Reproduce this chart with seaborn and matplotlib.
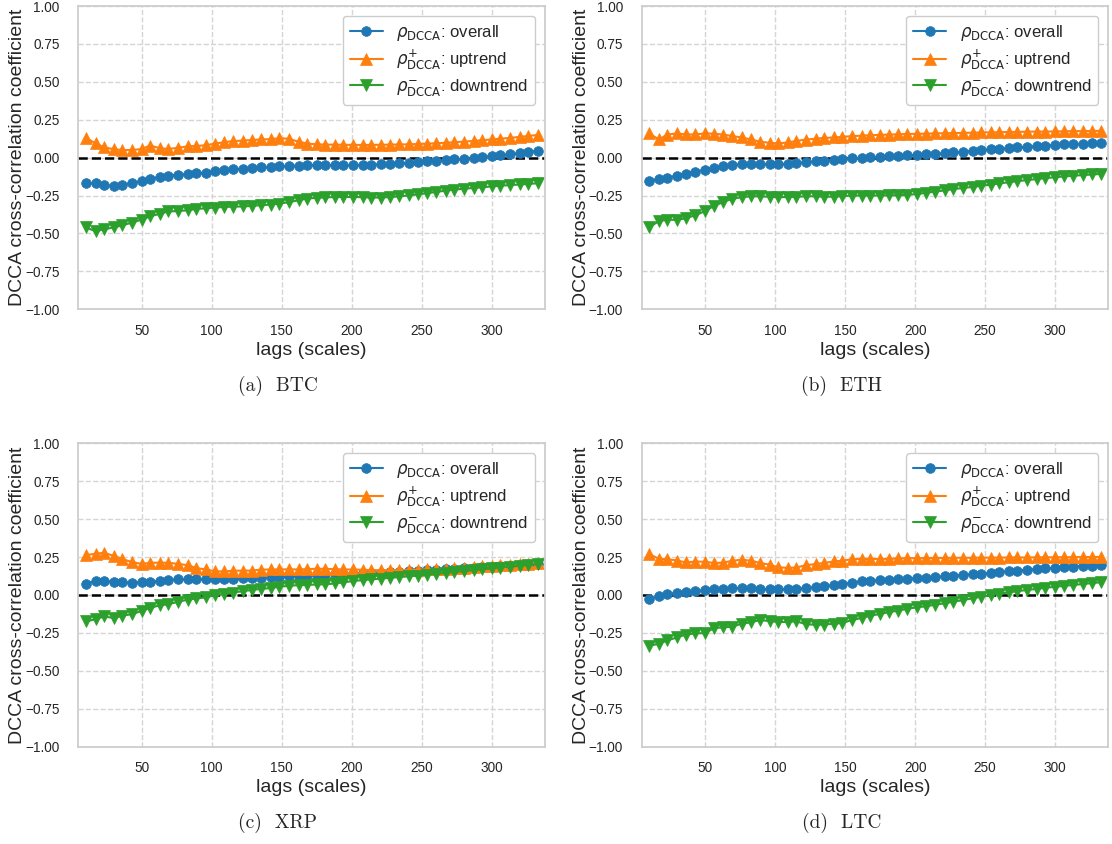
import numpy as np
import pandas as pd
import matplotlib
matplotlib.use('Agg')
import matplotlib.pyplot as plt
from matplotlib.ticker import MultipleLocator, FuncFormatter
import seaborn as sns

# lags (scales) used for every coin
lags = [10, 17, 23, 30, 36, 43, 50, 56, 63, 69, 76, 83, 89, 96, 102, 109, 115,
        122, 129, 135, 142, 148, 155, 162, 168, 175, 181, 188, 194, 201, 208,
        214, 221, 227, 234, 241, 247, 254, 260, 267, 273, 280, 287, 293, 300,
        306, 313, 320, 326, 333]

coins = ['BTC', 'ETH', 'XRP', 'LTC']
captions = ['(a)  BTC', '(b)  ETH', '(c)  XRP', '(d)  LTC']

# BTC
btc_overall = [-0.165, -0.17, -0.183, -0.186, -0.18, -0.168, -0.155, -0.14, -0.128, -0.118,
               -0.112, -0.108, -0.103, -0.098, -0.09, -0.082, -0.077, -0.072, -0.068, -0.064,
               -0.06, -0.056, -0.054, -0.052, -0.051, -0.05, -0.05, -0.05, -0.05, -0.05,
               -0.049, -0.047, -0.045, -0.042, -0.038, -0.034, -0.03, -0.025, -0.02, -0.016,
               -0.012, -0.007, -0.002, 0.004, 0.01, 0.016, 0.022, 0.03, 0.038, 0.045]
btc_up = [0.13, 0.095, 0.068, 0.056, 0.05, 0.05, 0.057, 0.08, 0.062, 0.057,
          0.065, 0.075, 0.077, 0.082, 0.092, 0.102, 0.108, 0.113, 0.116, 0.12,
          0.122, 0.128, 0.125, 0.105, 0.093, 0.088, 0.086, 0.086, 0.085, 0.084,
          0.084, 0.084, 0.085, 0.086, 0.087, 0.088, 0.09, 0.092, 0.095, 0.098,
          0.102, 0.106, 0.11, 0.115, 0.12, 0.125, 0.13, 0.137, 0.143, 0.15]
btc_down = [-0.46, -0.485, -0.473, -0.46, -0.447, -0.428, -0.408, -0.387, -0.37, -0.355,
            -0.352, -0.347, -0.338, -0.334, -0.329, -0.325, -0.323, -0.322, -0.318, -0.313,
            -0.31, -0.303, -0.294, -0.281, -0.27, -0.265, -0.262, -0.26, -0.259, -0.259,
            -0.261, -0.263, -0.263, -0.26, -0.255, -0.249, -0.242, -0.234, -0.226, -0.218,
            -0.211, -0.205, -0.2, -0.195, -0.19, -0.185, -0.181, -0.177, -0.173, -0.169]

# ETH
eth_overall = [-0.152, -0.142, -0.131, -0.12, -0.107, -0.094, -0.08, -0.066, -0.058, -0.049,
               -0.044, -0.043, -0.043, -0.043, -0.043, -0.041, -0.037, -0.031, -0.025, -0.02,
               -0.015, -0.011, -0.005, -0.001, 0.003, 0.006, 0.009, 0.012, 0.015, 0.018,
               0.021, 0.025, 0.029, 0.034, 0.039, 0.044, 0.049, 0.054, 0.058, 0.063,
               0.067, 0.071, 0.075, 0.079, 0.083, 0.087, 0.09, 0.093, 0.095, 0.097]
eth_up = [0.16, 0.12, 0.152, 0.16, 0.153, 0.153, 0.16, 0.158, 0.152, 0.143,
          0.133, 0.12, 0.105, 0.098, 0.094, 0.1, 0.11, 0.119, 0.125, 0.13,
          0.133, 0.137, 0.142, 0.145, 0.148, 0.15, 0.152, 0.154, 0.156, 0.157,
          0.158, 0.16, 0.161, 0.162, 0.163, 0.165, 0.166, 0.167, 0.168, 0.169,
          0.17, 0.171, 0.172, 0.172, 0.173, 0.174, 0.175, 0.175, 0.176, 0.177]
eth_down = [-0.46, -0.418, -0.41, -0.41, -0.4, -0.38, -0.352, -0.32, -0.292, -0.273,
            -0.26, -0.255, -0.255, -0.258, -0.26, -0.26, -0.258, -0.255, -0.255, -0.258,
            -0.257, -0.254, -0.25, -0.25, -0.25, -0.25, -0.249, -0.248, -0.246, -0.24,
            -0.232, -0.224, -0.216, -0.208, -0.2, -0.193, -0.186, -0.178, -0.17, -0.162,
            -0.155, -0.148, -0.141, -0.135, -0.129, -0.124, -0.119, -0.115, -0.111, -0.107]

# XRP
xrp_overall = [0.072, 0.092, 0.093, 0.088, 0.084, 0.082, 0.083, 0.087, 0.093, 0.098,
               0.102, 0.103, 0.103, 0.103, 0.104, 0.106, 0.107, 0.109, 0.11, 0.113,
               0.116, 0.12, 0.124, 0.127, 0.13, 0.133, 0.135, 0.137, 0.138, 0.14,
               0.142, 0.145, 0.148, 0.151, 0.154, 0.157, 0.16, 0.163, 0.166, 0.17,
               0.173, 0.177, 0.18, 0.184, 0.187, 0.19, 0.193, 0.196, 0.199, 0.202]
xrp_up = [0.262, 0.272, 0.278, 0.258, 0.238, 0.216, 0.205, 0.212, 0.213, 0.212,
          0.205, 0.196, 0.177, 0.168, 0.156, 0.155, 0.16, 0.16, 0.161, 0.167,
          0.168, 0.168, 0.169, 0.168, 0.17, 0.173, 0.172, 0.17, 0.168, 0.168,
          0.166, 0.164, 0.163, 0.163, 0.164, 0.165, 0.166, 0.168, 0.17, 0.173,
          0.176, 0.18, 0.184, 0.188, 0.192, 0.196, 0.199, 0.202, 0.205, 0.208]
xrp_down = [-0.175, -0.16, -0.142, -0.152, -0.138, -0.126, -0.106, -0.085, -0.068, -0.062,
            -0.045, -0.031, -0.023, -0.016, -0.002, 0.007, 0.015, 0.025, 0.033, 0.04,
            0.045, 0.054, 0.06, 0.065, 0.066, 0.069, 0.07, 0.076, 0.083, 0.092,
            0.098, 0.103, 0.108, 0.113, 0.118, 0.123, 0.128, 0.133, 0.139, 0.145,
            0.151, 0.157, 0.163, 0.169, 0.175, 0.181, 0.187, 0.193, 0.198, 0.203]

# LTC
ltc_overall = [-0.025, -0.01, 0.007, 0.013, 0.02, 0.027, 0.033, 0.038, 0.042, 0.044,
               0.044, 0.044, 0.04, 0.038, 0.036, 0.037, 0.039, 0.045, 0.05, 0.057,
               0.065, 0.072, 0.082, 0.089, 0.094, 0.098, 0.101, 0.104, 0.107, 0.11,
               0.114, 0.118, 0.122, 0.127, 0.132, 0.137, 0.141, 0.146, 0.151, 0.156,
               0.161, 0.166, 0.171, 0.175, 0.179, 0.183, 0.187, 0.191, 0.194, 0.197]
ltc_up = [0.27, 0.238, 0.236, 0.227, 0.215, 0.22, 0.219, 0.211, 0.213, 0.225,
          0.232, 0.226, 0.211, 0.2, 0.183, 0.178, 0.181, 0.196, 0.204, 0.211,
          0.221, 0.226, 0.236, 0.237, 0.237, 0.238, 0.238, 0.241, 0.242, 0.243,
          0.243, 0.244, 0.244, 0.245, 0.245, 0.245, 0.246, 0.246, 0.246, 0.247,
          0.247, 0.247, 0.248, 0.248, 0.248, 0.249, 0.249, 0.25, 0.25, 0.251]
ltc_down = [-0.335, -0.322, -0.3, -0.28, -0.262, -0.253, -0.252, -0.22, -0.213, -0.21,
            -0.19, -0.18, -0.166, -0.172, -0.178, -0.178, -0.173, -0.193, -0.197, -0.195,
            -0.19, -0.185, -0.165, -0.151, -0.137, -0.125, -0.114, -0.103, -0.092, -0.082,
            -0.074, -0.065, -0.055, -0.045, -0.034, -0.022, -0.012, -0.002, 0.008, 0.017,
            0.025, 0.033, 0.04, 0.047, 0.054, 0.06, 0.066, 0.072, 0.078, 0.084]

overall = [btc_overall, eth_overall, xrp_overall, ltc_overall]
uptrend = [btc_up, eth_up, xrp_up, ltc_up]
downtrend = [btc_down, eth_down, xrp_down, ltc_down]

series_labels = [r'$\rho_{\mathrm{DCCA}}$: overall',
                 r'$\rho^{+}_{\mathrm{DCCA}}$: uptrend',
                 r'$\rho^{-}_{\mathrm{DCCA}}$: downtrend']
colors = ['#1f77b4', '#ff7f0e', '#2ca02c']
markers = ['o', '^', 'v']
msizes = [7, 8.5, 8.5]

# ==============================================================================

sns.set_theme(style='whitegrid', rc={'grid.linestyle': '--', 'grid.color': '#d5d5d5',
                                     'axes.edgecolor': '#cccccc'})
plt.rcParams['font.family'] = ['Liberation Sans', 'DejaVu Sans']

fig = plt.figure(figsize=(11.12, 8.44), dpi=100)

W, H = 1112, 844
ax_w, ax_h = 466.7, 303.3
lefts = [78.3, 641.7]
tops = [6, 443.3]

yfmt = FuncFormatter(lambda v, pos: ('%.2f' % v).replace('-', '\u2212'))

for k, coin in enumerate(coins):
    row, col = divmod(k, 2)
    ax = fig.add_axes([lefts[col] / W, 1 - (tops[row] + ax_h) / H, ax_w / W, ax_h / H])

    df = pd.DataFrame({'lag': lags, 'overall': overall[k],
                       'uptrend': uptrend[k], 'downtrend': downtrend[k]})
    for j, name in enumerate(['overall', 'uptrend', 'downtrend']):
        sns.lineplot(data=df, x='lag', y=name, ax=ax, color=colors[j],
                     marker=markers[j], markersize=msizes[j], markeredgecolor=colors[j],
                     markeredgewidth=0.5, linewidth=1.5, label=series_labels[j])

    ax.axhline(0, color='black', linestyle='--', linewidth=1.8, zorder=1)
    ax.set_xlim(4.7, 338)
    ax.set_ylim(-1, 1)
    ax.xaxis.set_major_locator(MultipleLocator(50))
    ax.yaxis.set_major_locator(MultipleLocator(0.25))
    ax.yaxis.set_major_formatter(yfmt)
    ax.tick_params(axis='both', labelsize=9.8, colors='#262626')
    ax.tick_params(axis='y', pad=7.5)
    ax.tick_params(axis='x', pad=4.5)
    ax.set_xlabel('lags (scales)', fontsize=14, labelpad=3)
    ax.set_ylabel('DCCA cross-correlation coefficient', fontsize=14, labelpad=-1)
    ax.legend(loc='upper right', fontsize=12, frameon=True, framealpha=1,
              edgecolor='#cccccc', borderaxespad=0.6, labelspacing=0.3)

    cx = 278 + col * 563.4
    cy = 386 + row * 437.3
    fig.text(cx / W, 1 - cy / H, captions[k], ha='center', va='center',
             fontsize=14, family='cmr10')

fig.savefig('out.png', dpi=100)
